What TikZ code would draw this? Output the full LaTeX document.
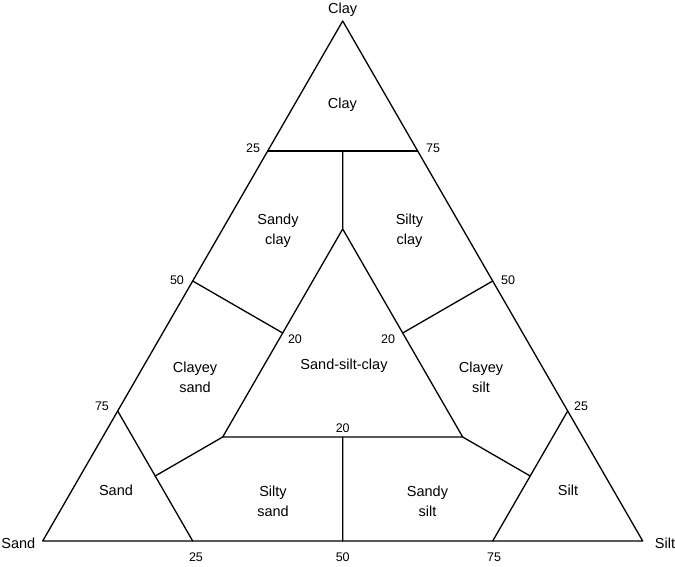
\documentclass[tikz,border=0pt]{standalone}
\usepackage{fontspec}
\setmainfont{Liberation Sans}
\usepackage{xcolor}
\usepackage{tikz}
\usetikzlibrary{calc}
\definecolor{bg}{HTML}{FFFFFF}
\definecolor{ink}{HTML}{000000}
\tikzset{
  edge/.style={draw=ink, line width=1.3pt, line cap=round, line join=round},
  lab/.style={text=ink, font=\fontsize{14.5}{20}\selectfont, align=center, inner sep=0pt},
  num/.style={text=ink, font=\fontsize{12.5}{14}\selectfont, inner sep=0pt},
}

\begin{document}
\begin{tikzpicture}[x=1pt,y=1pt]
  \useasboundingbox[fill=bg] (0,0) rectangle (675,566);
  \coordinate (Sa) at (42.7,25);
  \coordinate (Si) at (642.7,25);
  \coordinate (Cl) at (342.7,545);

  % points on the sides
  \coordinate (Ca) at ($(Cl)!0.25!(Sa)$);
  \coordinate (Cb) at ($(Cl)!0.25!(Si)$);
  \coordinate (Cm) at ($(Ca)!0.5!(Cb)$);
  \coordinate (L50) at ($(Cl)!0.5!(Sa)$);
  \coordinate (R50) at ($(Cl)!0.5!(Si)$);
  \coordinate (L75) at ($(Cl)!0.75!(Sa)$);
  \coordinate (R75) at ($(Cl)!0.75!(Si)$);
  \coordinate (B25) at ($(Sa)!0.25!(Si)$);
  \coordinate (B50) at ($(Sa)!0.5!(Si)$);
  \coordinate (B75) at ($(Sa)!0.75!(Si)$);

  % inner triangle, 20 each
  \coordinate (ISa) at (barycentric cs:Sa=0.6,Si=0.2,Cl=0.2);
  \coordinate (ISi) at (barycentric cs:Sa=0.2,Si=0.6,Cl=0.2);
  \coordinate (ICl) at (barycentric cs:Sa=0.2,Si=0.2,Cl=0.6);
  \coordinate (IL) at ($(ISa)!0.5!(ICl)$);
  \coordinate (IR) at ($(ISi)!0.5!(ICl)$);
  \coordinate (IB) at ($(ISa)!0.5!(ISi)$);
  \coordinate (Sm) at ($(L75)!0.5!(B25)$);
  \coordinate (Tm) at ($(R75)!0.5!(B75)$);

  \draw[edge] (Sa)--(Si)--(Cl)--cycle;
  \draw[edge] (ISa)--(ISi)--(ICl)--cycle;
  \draw[edge] (Ca)--(Cb);
  \draw[edge] (Cm)--(ICl);
  \draw[edge] (L50)--(IL);
  \draw[edge] (R50)--(IR);
  \draw[edge] (B50)--(IB);
  \draw[edge] (L75)--(B25);
  \draw[edge] (R75)--(B75);
  \draw[edge] (ISa)--(Sm);
  \draw[edge] (ISi)--(Tm);

  % end members
  \node[lab] (tCl) at ($(Cl)+(0,11)$) {Clay};
  \node[lab] (tSa) at ($(Sa)+(-24.4,-2)$) {Sand};
  \node[lab] (tSi) at ($(Si)+(22.3,-2)$) {Silt};

  % scale values
  \node[num] (nCa) at ($(Ca)+(-14.7,2.5)$) {25};
  \node[num] (nCb) at ($(Cb)+(15.3,2.5)$) {75};
  \node[num] (nL50) at ($(L50)+(-15.7,0.5)$) {50};
  \node[num] (nR50) at ($(R50)+(15.3,0.5)$) {50};
  \node[num] (nL75) at ($(L75)+(-15.7,4.5)$) {75};
  \node[num] (nR75) at ($(R75)+(13.3,4.5)$) {25};
  \node[num] (nB25) at ($(B25)+(3.3,-16)$) {25};
  \node[num] (nB50) at ($(B50)+(0,-16)$) {50};
  \node[num] (nB75) at ($(B75)+(1.3,-16)$) {75};
  \node[num] (nIL) at ($(IL)+(12.3,-6)$) {20};
  \node[num] (nIR) at ($(IR)+(-14.7,-6)$) {20};
  \node[num] (nIB) at ($(IB)+(0,8.5)$) {20};

  % classes
  \node[lab] (rCl) at (342.5,461.5) {Clay};
  \node[lab] (rSaCl) at (278,335.5) {Sandy\\clay};
  \node[lab] (rSiCl) at (409.5,335.5) {Silty\\clay};
  \node[lab] (rClSa) at (195,189) {Clayey\\sand};
  \node[lab] (rMix) at (344,200) {Sand-silt-clay};
  \node[lab] (rClSi) at (481,189) {Clayey\\silt};
  \node[lab] (rSa) at (116,76) {Sand};
  \node[lab] (rSiSa) at (273,65) {Silty\\sand};
  \node[lab] (rSaSi) at (427.5,65) {Sandy\\silt};
  \node[lab] (rSi) at (568,76) {Silt};
\end{tikzpicture}
\end{document}
